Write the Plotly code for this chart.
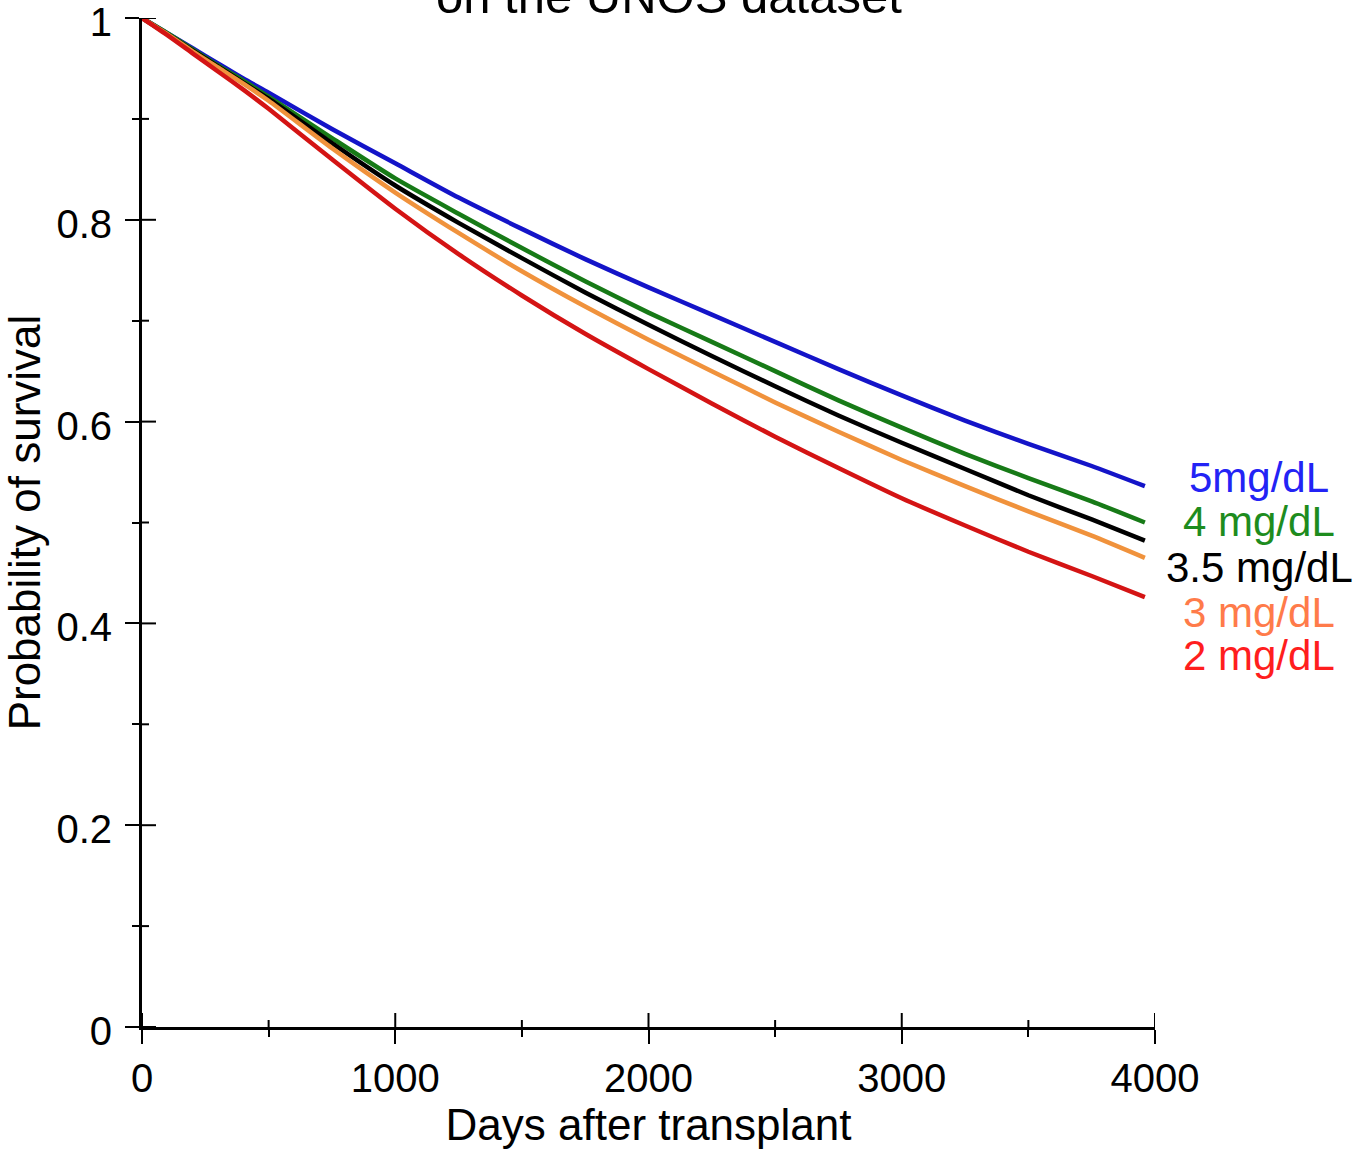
import plotly.graph_objects as go

days = [0, 100, 200, 300, 400, 500, 750, 1000, 1250, 1500, 1750, 2000,
        2250, 2500, 2750, 3000, 3250, 3500, 3750, 3960]

surv_5 = [1.0, 0.985, 0.970, 0.955, 0.940, 0.926, 0.890, 0.856, 0.822, 0.791,
          0.761, 0.733, 0.706, 0.679, 0.652, 0.626, 0.601, 0.578, 0.556, 0.536]
surv_4 = [1.0, 0.985, 0.969, 0.953, 0.938, 0.922, 0.881, 0.841, 0.806, 0.772,
          0.739, 0.708, 0.679, 0.650, 0.621, 0.594, 0.568, 0.544, 0.521, 0.500]
surv_35 = [1.0, 0.984, 0.968, 0.952, 0.936, 0.920, 0.876, 0.834, 0.797, 0.762,
           0.728, 0.696, 0.665, 0.635, 0.606, 0.579, 0.553, 0.527, 0.503, 0.482]
surv_3 = [1.0, 0.984, 0.967, 0.951, 0.935, 0.918, 0.871, 0.827, 0.787, 0.749,
          0.714, 0.681, 0.650, 0.619, 0.590, 0.562, 0.536, 0.511, 0.487, 0.465]
surv_2 = [1.0, 0.983, 0.965, 0.947, 0.929, 0.910, 0.860, 0.811, 0.766, 0.725,
          0.687, 0.652, 0.618, 0.585, 0.554, 0.524, 0.497, 0.471, 0.447, 0.426]

series_labels = ["5mg/dL", "4 mg/dL", "3.5 mg/dL", "3 mg/dL", "2 mg/dL"]
series_values = [surv_5, surv_4, surv_35, surv_3, surv_2]
line_colors = ["#1414c8", "#177a17", "#000000", "#f0923c", "#d41414"]
label_colors = ["#2323f5", "#1e8c1e", "#000000", "#ff7b4a", "#ff1e1e"]
label_y = [0.545, 0.501, 0.455, 0.411, 0.368]

x_ticks = [0, 1000, 2000, 3000, 4000]
x_minor = [500, 1500, 2500, 3500]
y_ticks = [0, 0.2, 0.4, 0.6, 0.8, 1]
y_ticktext = ["0", "0.2", "0.4", "0.6", "0.8", "1"]
y_minor = [0.1, 0.3, 0.5, 0.7, 0.9]

FONT = "Liberation Sans, Arial, sans-serif"

fig = go.Figure()
for name, vals, col in zip(series_labels, series_values, line_colors):
    fig.add_trace(go.Scatter(x=days, y=vals, mode="lines", name=name,
                             line=dict(color=col, width=4.5, shape="spline", smoothing=0.6),
                             showlegend=False))

for name, col, yy in zip(series_labels, label_colors, label_y):
    fig.add_annotation(text=name, xref="paper", yref="paper", x=1.1027, y=yy,
                       xanchor="center", yanchor="middle", showarrow=False,
                       font=dict(family=FONT, size=42, color=col))

fig.add_annotation(text="on the UNOS dataset", xref="paper", yref="paper",
                   x=0.52, y=0.993, xanchor="center", yanchor="bottom", showarrow=False,
                   font=dict(family=FONT, size=49, color="#000000"))

# inner halves of the crossing tick marks
for v in x_ticks:
    fig.add_shape(type="line", xref="x", yref="y", x0=v, x1=v, ysizemode="pixel",
                  yanchor=0, y0=0, y1=14, line=dict(color="#000", width=2))
for v in x_minor:
    fig.add_shape(type="line", xref="x", yref="y", x0=v, x1=v, ysizemode="pixel",
                  yanchor=0, y0=0, y1=7, line=dict(color="#000", width=2))
for v in y_ticks:
    fig.add_shape(type="line", xref="x", yref="y", y0=v, y1=v, xsizemode="pixel",
                  xanchor=0, x0=0, x1=14, line=dict(color="#000", width=2))
for v in y_minor:
    fig.add_shape(type="line", xref="x", yref="y", y0=v, y1=v, xsizemode="pixel",
                  xanchor=0, x0=0, x1=7, line=dict(color="#000", width=2))

fig.update_layout(
    width=1369, height=1154,
    margin=dict(l=142, r=214, t=18, b=127),
    paper_bgcolor="white", plot_bgcolor="white",
    font=dict(family=FONT, size=40, color="#000000"),
    xaxis=dict(range=[0, 4000], tickvals=x_ticks, ticktext=[str(v) for v in x_ticks],
               ticks="outside", ticklen=14, tickwidth=2, tickcolor="#000",
               minor=dict(tickvals=x_minor, ticks="outside", ticklen=7, tickwidth=2, tickcolor="#000"),
               showline=True, linecolor="#000", linewidth=3, showgrid=False, zeroline=False,
               title=dict(text="Days after transplant", font=dict(size=44), standoff=6),
               automargin=False, tickfont=dict(size=40), ticklabeloverflow="allow"),
    yaxis=dict(range=[0, 1], tickvals=y_ticks, ticktext=y_ticktext,
               ticks="outside", ticklen=14, tickwidth=2, tickcolor="#000",
               minor=dict(tickvals=y_minor, ticks="outside", ticklen=7, tickwidth=2, tickcolor="#000"),
               showline=True, linecolor="#000", linewidth=3, showgrid=False, zeroline=False,
               title=dict(text="Probability of survival", font=dict(size=44), standoff=6),
               automargin=False, tickfont=dict(size=40), ticklabeloverflow="allow",
               ticklabelstandoff=5, ticklabelshift=4),
)

fig.write_html("out.html", config={"displayModeBar": False},
               post_script="document.body.style.margin='0';")
